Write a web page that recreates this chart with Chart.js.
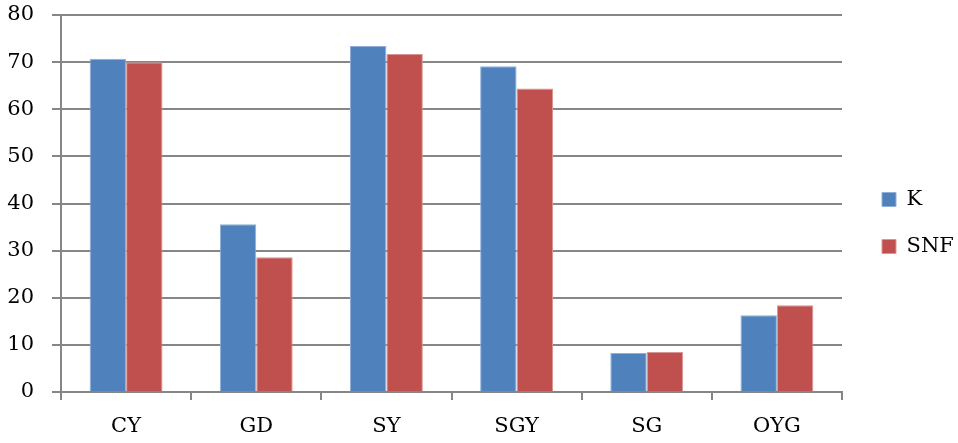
<!DOCTYPE html>
<html>
<head>
<meta charset="utf-8">
<script src="https://cdn.jsdelivr.net/npm/chart.js@4"></script>
<style>
  html, body { margin: 0; padding: 0; background: #fff; }
  #wrap { width: 958px; height: 443px; }
</style>
</head>
<body>
<div id="wrap"><canvas id="chart" width="958" height="443"></canvas></div>
<script>
var categories = ['CY', 'GD', 'SY', 'SGY', 'SG', 'OYG'];
var kValues = [70.7, 35.6, 73.4, 69.1, 8.3, 16.3];
var snfValues = [70.0, 28.6, 71.7, 64.4, 8.5, 18.4];
var yTicks = [0, 10, 20, 30, 40, 50, 60, 70, 80];

var font = {family: 'DejaVu Serif', size: 21};
var gridColor = '#868686';

new Chart(document.getElementById('chart'), {
  type: 'bar',
  data: {
    labels: categories,
    datasets: [
      {label: 'K', data: kValues, backgroundColor: '#4F81BD', borderColor: '#8FB0D8', borderWidth: 1},
      {label: 'SNF', data: snfValues, backgroundColor: '#C0504D', borderColor: '#D99694', borderWidth: 1}
    ]
  },
  options: {
    responsive: false,
    animation: false,
    datasets: {bar: {barPercentage: 1, categoryPercentage: 0.56}},
    layout: {padding: {left: 0, top: 3, right: 0, bottom: 0}},
    plugins: {
      tooltip: {enabled: false},
      legend: {
        position: 'right',
        maxWidth: 102,
        labels: {
          color: '#000', font: font, boxWidth: 14, boxHeight: 14,
          padding: 26
        }
      }
    },
    scales: {
      x: {
        ticks: {color: '#000', font: font, padding: 14},
        grid: {drawOnChartArea: false, offset: true, tickLength: 8, color: gridColor, lineWidth: 2},
        border: {color: gridColor, width: 2},
        afterFit: function (s) { s.height = 51; s.paddingLeft = 0; s.paddingRight = 0; }
      },
      y: {
        min: 0, max: 80,
        afterBuildTicks: function (axis) { axis.ticks = yTicks.map(function (v) { return {value: v}; }); },
        ticks: {color: '#000', font: font, padding: 18},
        grid: {color: gridColor, lineWidth: 2, tickLength: 9},
        border: {color: gridColor, width: 2},
        afterFit: function (s) { s.width = 61; s.paddingTop = 15; s.paddingBottom = 0; }
      },
      // empty spacer between the plot and the legend
      gap: {
        position: 'right', min: 0, max: 1,
        ticks: {display: false}, grid: {display: false, drawTicks: false}, border: {display: false},
        afterFit: function (s) { s.width = 14; }
      }
    }
  }
});
</script>
</body>
</html>
